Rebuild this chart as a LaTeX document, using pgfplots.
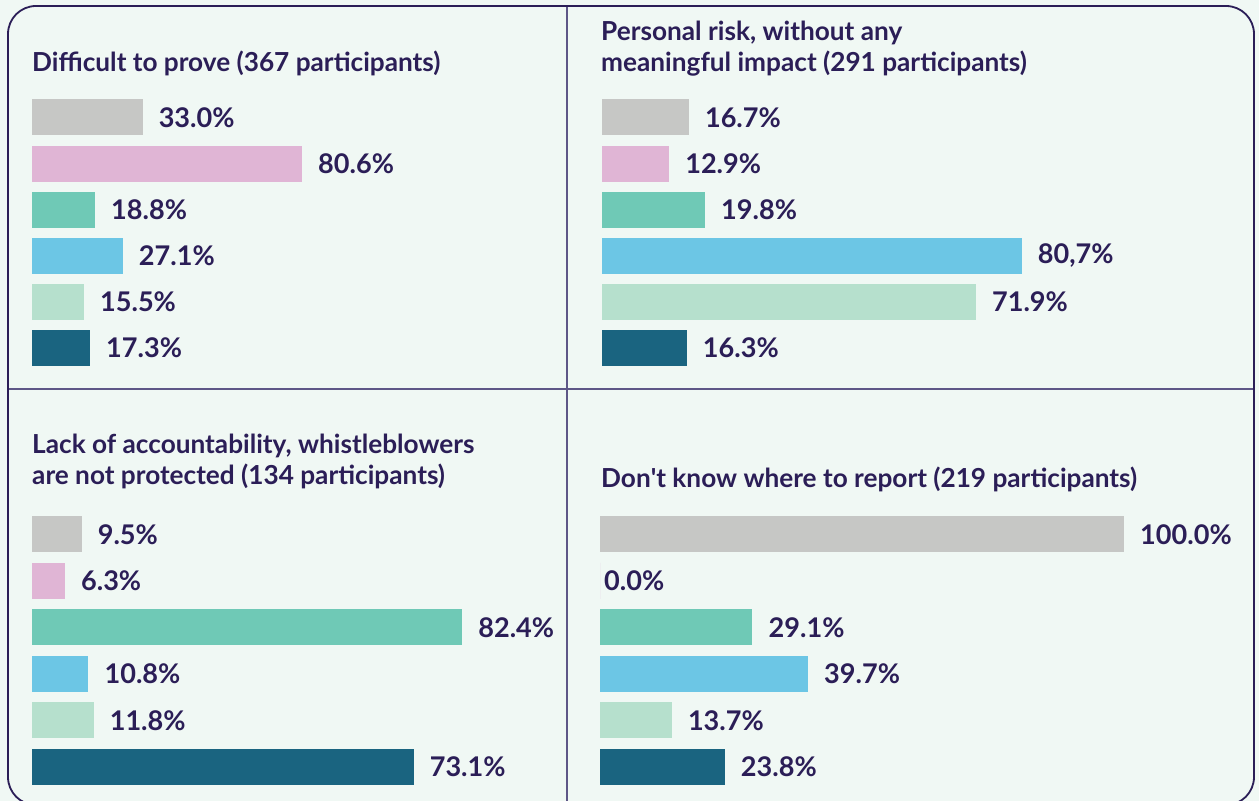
\documentclass[border=0pt]{standalone}
\usepackage{fontspec}
\setmainfont{Lato}
\usepackage{pgfplots}
\pgfplotsset{compat=1.18}

\definecolor{bg}{HTML}{F0F8F4}
\definecolor{ink}{HTML}{2B1E57}
\definecolor{rule}{HTML}{5E5787}
\definecolor{cA}{HTML}{C6C7C5}
\definecolor{cB}{HTML}{E0B5D5}
\definecolor{cC}{HTML}{6FC9B6}
\definecolor{cD}{HTML}{6CC6E5}
\definecolor{cE}{HTML}{B6E0CD}
\definecolor{cF}{HTML}{1A6480}

\newcommand{\ttl}{\fontsize{26.3}{31}\selectfont\bfseries}
\newcommand{\lab}{\fontsize{27.2}{31}\selectfont\bfseries}

\pgfplotsset{
  panel/.style={scale only axis, hide axis, clip=false,
    xmin=0, xmax=100, ymin=0, ymax=5, y dir=reverse,
    anchor=north west, width=#1},
  cell/.style={xbar, bar shift=0pt, bar width=36bp, draw=none, fill=#1,
    nodes near coords, point meta=explicit symbolic,
    every node near coord/.append style={anchor=west, xshift=16bp,
      inner sep=0pt, font=\lab, text=ink}},
}

\begin{document}
\begin{tikzpicture}[x=1bp, y=1bp]
  % page and background
  \path[use as bounding box, fill=bg] (0,0) rectangle (1259,801);
  \clip (0,0) rectangle (1259,801);

  % frame and dividers
  \draw[rule, line width=2.4bp] (567,795) -- (567,-4);
  \draw[rule, line width=2.4bp] (7,412) -- (1255,412);
  \draw[ink, line width=1.8bp, rounded corners=28bp] (8,795) rectangle (1254,-4);

  % titles
  \node[anchor=base west, inner sep=0pt, text=ink, font=\ttl] at (32,729.5)
    {Difficult to prove (367 participants)};
  \node[anchor=base west, inner sep=0pt, text=ink, font=\ttl] at (601,760)
    {Personal risk, without any};
  \node[anchor=base west, inner sep=0pt, text=ink, font=\ttl] at (601,729)
    {meaningful impact (291 participants)};
  \node[anchor=base west, inner sep=0pt, text=ink, font=\ttl] at (32,347)
    {Lack of accountability, whistleblowers};
  \node[anchor=base west, inner sep=0pt, text=ink, font=\ttl] at (32,316)
    {are not protected (134 participants)};
  \node[anchor=base west, inner sep=0pt, text=ink, font=\ttl] at (601,313)
    {Don\textquotesingle t know where to report (219 participants)};

  % Difficult to prove
  \begin{axis}[panel=335bp, height=230.5bp, at={(32bp,683.5bp)}]
    \addplot[cell=cA] coordinates {(33.0,0) [33.0\%]};
    \addplot[cell=cB] coordinates {(80.6,1) [80.6\%]};
    \addplot[cell=cC] coordinates {(18.8,2) [18.8\%]};
    \addplot[cell=cD] coordinates {(27.1,3) [27.1\%]};
    \addplot[cell=cE] coordinates {(15.5,4) [15.5\%]};
    \addplot[cell=cF] coordinates {(17.3,5) [17.3\%]};
  \end{axis}

  % Personal risk, without any meaningful impact
  \begin{axis}[panel=520bp, height=230.5bp, at={(602bp,683.5bp)}]
    \addplot[cell=cA] coordinates {(16.7,0) [16.7\%]};
    \addplot[cell=cB] coordinates {(12.9,1) [12.9\%]};
    \addplot[cell=cC] coordinates {(19.8,2) [19.8\%]};
    \addplot[cell=cD] coordinates {(80.7,3) [80,7\%]};
    \addplot[cell=cE] coordinates {(71.9,4) [71.9\%]};
    \addplot[cell=cF] coordinates {(16.3,5) [16.3\%]};
  \end{axis}

  % Lack of accountability, whistleblowers are not protected
  \begin{axis}[panel=522bp, height=232.5bp, at={(32bp,266.5bp)}]
    \addplot[cell=cA] coordinates {(9.5,0) [9.5\%]};
    \addplot[cell=cB] coordinates {(6.3,1) [6.3\%]};
    \addplot[cell=cC] coordinates {(82.4,2) [82.4\%]};
    \addplot[cell=cD] coordinates {(10.8,3) [10.8\%]};
    \addplot[cell=cE] coordinates {(11.8,4) [11.8\%]};
    \addplot[cell=cF] coordinates {(73.1,5) [73.1\%]};
  \end{axis}

  % Don't know where to report
  \begin{axis}[panel=524bp, height=232.5bp, at={(600bp,266.5bp)}]
    \addplot[cell=cA] coordinates {(100.0,0) [100.0\%]};
    \addplot[cell=cB, every node near coord/.append style={xshift=-12bp}] coordinates {(0.0,1) [0.0\%]};
    \addplot[cell=cC] coordinates {(29.1,2) [29.1\%]};
    \addplot[cell=cD] coordinates {(39.7,3) [39.7\%]};
    \addplot[cell=cE] coordinates {(13.7,4) [13.7\%]};
    \addplot[cell=cF] coordinates {(23.8,5) [23.8\%]};
  \end{axis}
\end{tikzpicture}
\end{document}
